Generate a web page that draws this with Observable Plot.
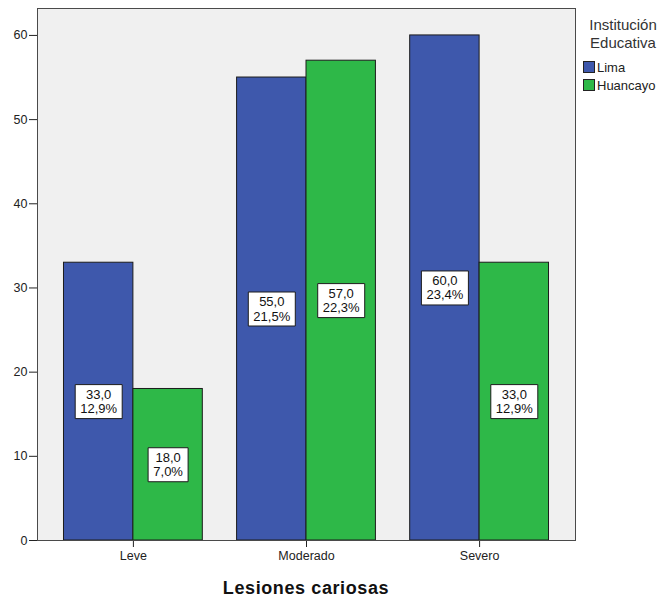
<!DOCTYPE html>
<html>
<head>
<meta charset="utf-8">
<script src="https://cdn.jsdelivr.net/npm/d3@7"></script>
<script src="https://cdn.jsdelivr.net/npm/@observablehq/plot@0.6"></script>
<style>
  html, body { margin: 0; padding: 0; background: #fff; }
  #wrap { position: relative; width: 664px; height: 600px; font-family: "Liberation Sans", Arial, sans-serif; color: #222; }
  #chart { position: absolute; left: 0; top: 0; }
  #legend { position: absolute; left: 580px; top: 16px; width: 84px; }
  #legend .title { text-align: center; font-size: 15px; line-height: 18px; color: #333; margin-left: 2px; }
  #legend .row { display: flex; align-items: center; height: 18px; font-size: 13px; margin-left: 3px; }
  #legend .sw { width: 12px; height: 12px; border: 1px solid #222; box-sizing: border-box; margin-right: 2px; }
  #xtitle { position: absolute; top: 578px; left: 0; width: 612px; text-align: center; font-weight: bold; font-size: 18px; letter-spacing: 0.6px; color: #111; }
</style>
</head>
<body>
<div id="wrap">
  <div id="chart"></div>
  <div id="legend"></div>
  <div id="xtitle"></div>
</div>
<script>
// ---- data ----
const categories = ["Leve", "Moderado", "Severo"];
const institutions = ["Lima", "Huancayo"];
const limaCounts = [33, 55, 60];
const huancayoCounts = [18, 57, 33];
const limaPct = ["12,9%", "21,5%", "23,4%"];
const huancayoPct = ["7,0%", "22,3%", "12,9%"];
const yTicks = [0, 10, 20, 30, 40, 50, 60];
const xTitle = "Lesiones cariosas";
const legendTitle = ["Institución", "Educativa"];
const colors = ["#3e58ac", "#2eb848"];

// ---- layout ----
const W = 664, H = 570;
const mL = 37, mR = 89, mT = 8, mB = 30;
const padInner = 0.198, padOuter = 0.153;
const step = (W - mL - mR) / (categories.length - padInner + 2 * padOuter);
const bw = step * (1 - padInner);

const fmt = v => v.toFixed(1).replace(".", ",");
const rows = [];
categories.forEach((c, i) => {
  rows.push({cat: c, inst: "Lima", value: limaCounts[i], label: fmt(limaCounts[i]) + "\n" + limaPct[i]});
  rows.push({cat: c, inst: "Huancayo", value: huancayoCounts[i], label: fmt(huancayoCounts[i]) + "\n" + huancayoPct[i]});
});

const labelFont = 13;
const canvas = document.createElement("canvas");
const ctx = canvas.getContext("2d");
ctx.font = `${labelFont}px "Liberation Sans", Arial, sans-serif`;
function boxSymbol(w, h) {
  return {draw(context) { context.rect(-w / 2, -h / 2, w, h); }};
}

const marks = [Plot.frame({fill: "#f0f0f0", stroke: "none"})];
institutions.forEach((inst, k) => {
  const data = rows.filter(d => d.inst === inst);
  marks.push(Plot.barY(data, {
    x: "cat", y: "value", fill: colors[k], stroke: "#1c1c1c", strokeWidth: 1,
    insetLeft: k === 0 ? 0 : bw / 2, insetRight: k === 0 ? bw / 2 : 0
  }));
});
rows.forEach(d => {
  const k = institutions.indexOf(d.inst);
  const off = (k === 0 ? -1 : 1) * bw / 4;
  const tw = Math.max(...d.label.split("\n").map(s => ctx.measureText(s).width));
  marks.push(Plot.dot([d], {
    x: "cat", y: v => v.value / 2, dx: off,
    symbol: boxSymbol(Math.round(tw + 10), 34), fill: "white", stroke: "#1c1c1c", strokeWidth: 1
  }));
  marks.push(Plot.text([d], {
    x: "cat", y: v => v.value / 2, dx: off, text: "label",
    fontSize: labelFont, lineHeight: 1.08, fill: "#111"
  }));
});
marks.push(Plot.frame({stroke: "#4a4a4a", strokeWidth: 1}));

const chart = Plot.plot({
  width: W, height: H,
  marginLeft: mL, marginRight: mR, marginTop: mT, marginBottom: mB,
  style: {fontFamily: '"Liberation Sans", Arial, sans-serif', fontSize: "12.5px", color: "#222", background: "transparent"},
  x: {domain: categories, paddingInner: padInner, paddingOuter: padOuter, round: false,
      label: null, tickSize: 7, tickPadding: 4},
  y: {domain: [0, 63.2], ticks: yTicks, tickSize: 8, tickPadding: 2, label: null,
      tickFormat: d => String(d)},
  marks
});
document.getElementById("chart").appendChild(chart);

// ---- legend ----
const leg = document.getElementById("legend");
legendTitle.forEach(t => {
  const el = document.createElement("div"); el.className = "title"; el.textContent = t; leg.appendChild(el);
});
const spacer = document.createElement("div"); spacer.style.height = "6px"; leg.appendChild(spacer);
institutions.forEach((inst, k) => {
  const r = document.createElement("div"); r.className = "row";
  const sw = document.createElement("div"); sw.className = "sw"; sw.style.background = colors[k];
  const tx = document.createElement("span"); tx.textContent = inst;
  r.appendChild(sw); r.appendChild(tx); leg.appendChild(r);
});
document.getElementById("xtitle").textContent = xTitle;
</script>
</body>
</html>
